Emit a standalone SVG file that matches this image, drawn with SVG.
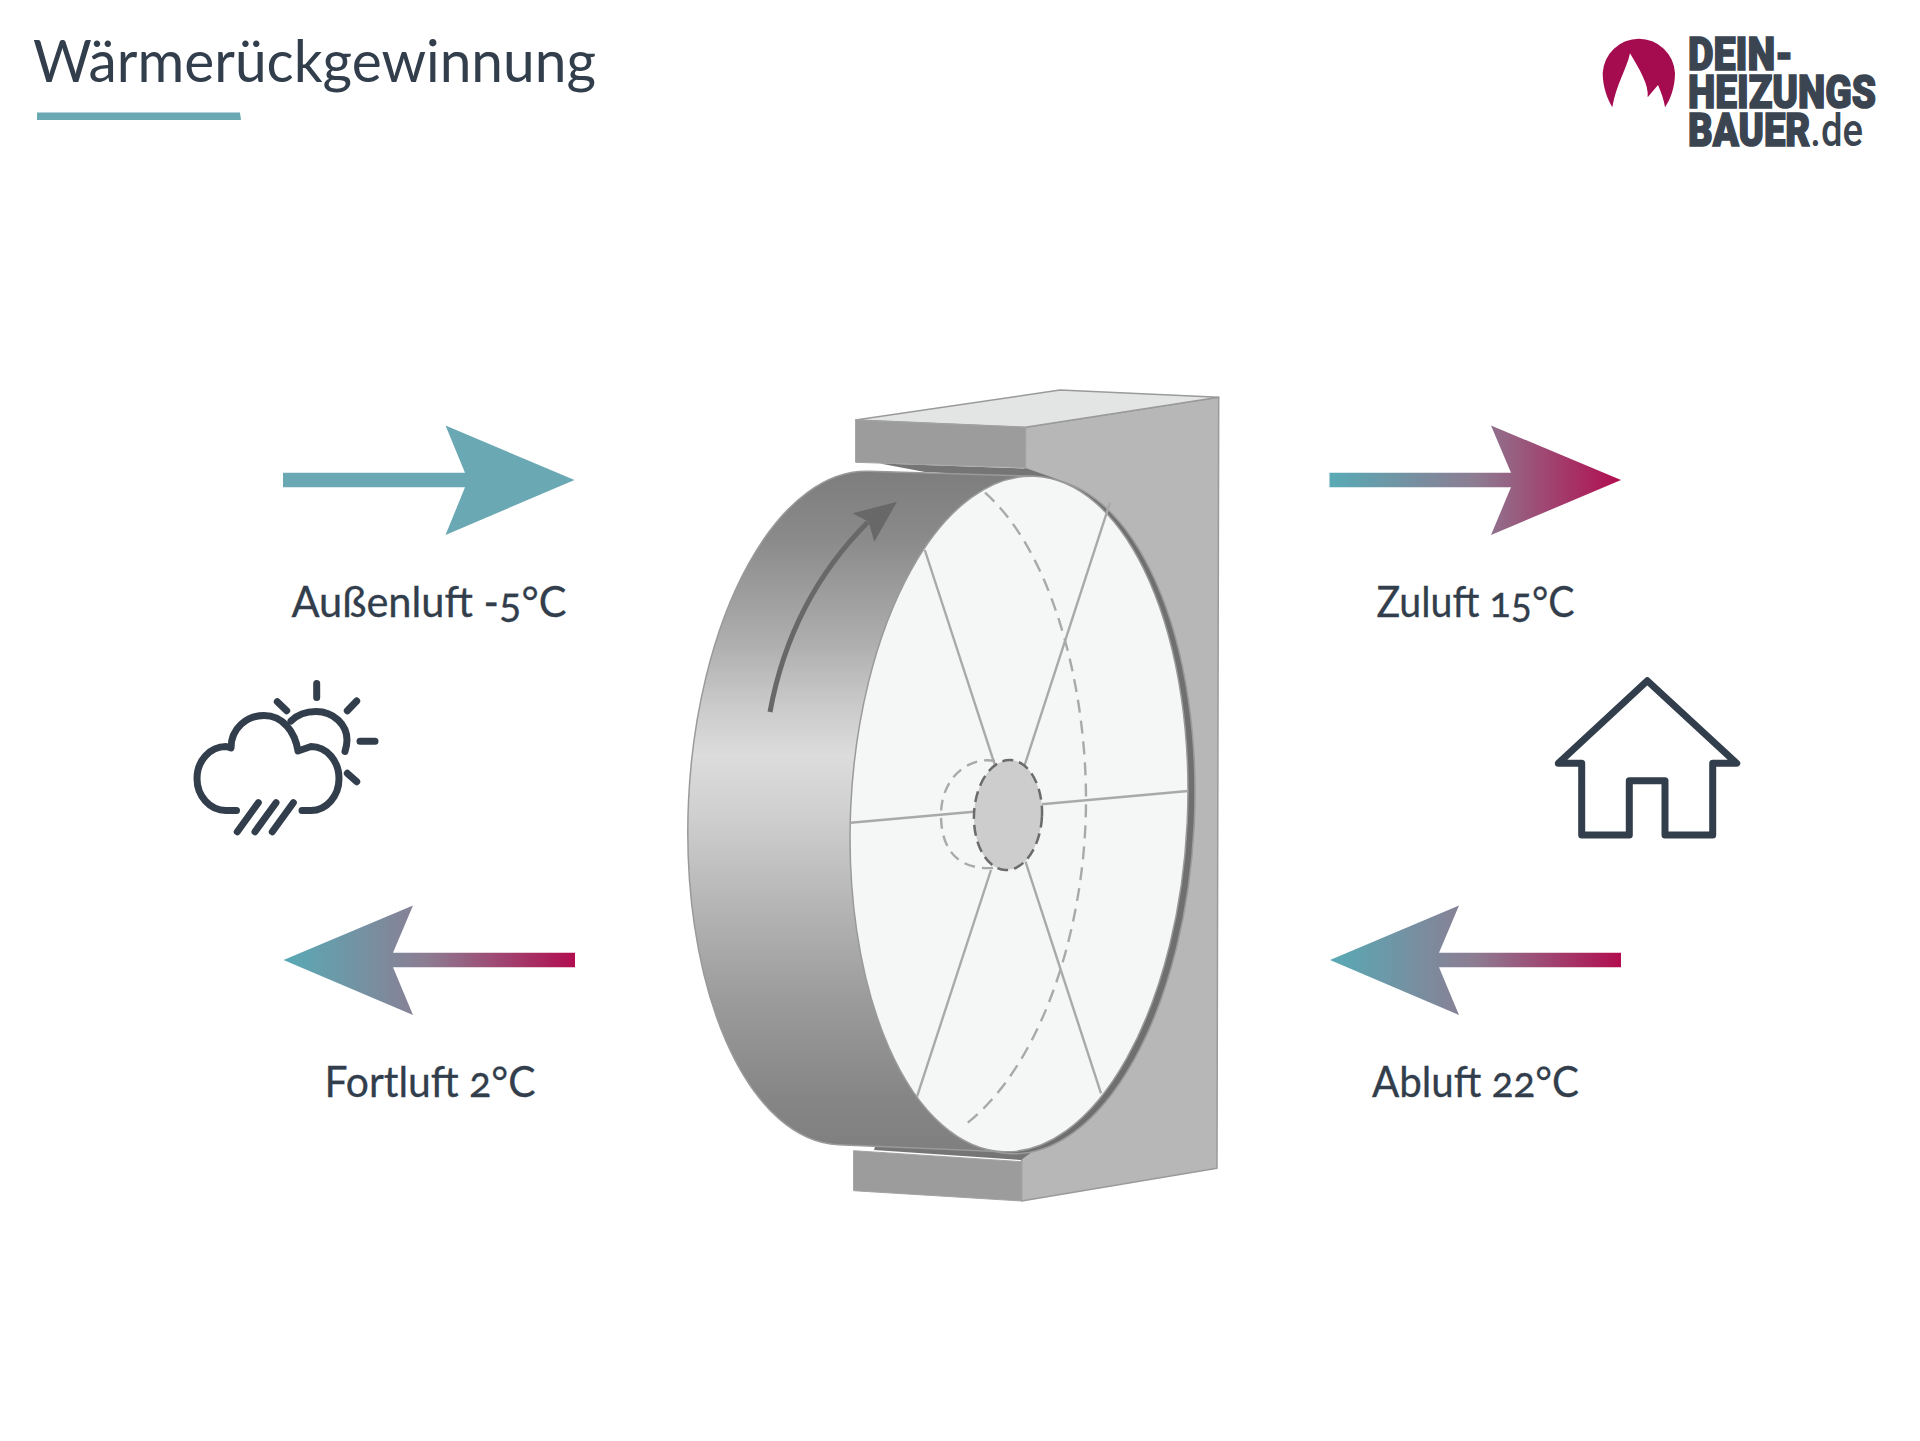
<svg xmlns="http://www.w3.org/2000/svg" width="1920" height="1441" viewBox="0 0 1920 1441">
<style>
.lbl{font-family:"Lato","Noto Sans",sans-serif;font-size:42px;fill:#323e4c;text-anchor:middle;font-variant-numeric:oldstyle-nums;stroke:#323e4c;stroke-width:.3}
.logo{font-family:"Roboto","Liberation Sans",sans-serif;font-size:47px;font-weight:900;fill:#3b4551;stroke:#3b4551;stroke-width:1.6}
.ico{fill:none;stroke:#323e4c;stroke-width:7;stroke-linecap:round;stroke-linejoin:round}
.spoke{stroke:#a9a9a9;stroke-width:2.4;fill:none}
.edge{stroke:#9a9a9a;stroke-width:1.5;stroke-linejoin:round}
</style>
<defs>
<linearGradient id="drum" gradientUnits="userSpaceOnUse" x1="0" y1="470" x2="0" y2="1150">
<stop offset="0" stop-color="#7d7d7d"/><stop offset=".1" stop-color="#8a8a8a"/><stop offset=".25" stop-color="#adadad"/><stop offset=".35" stop-color="#cbcbcb"/><stop offset=".42" stop-color="#dcdcdc"/><stop offset=".51" stop-color="#cfcfcf"/><stop offset=".62" stop-color="#b9b9b9"/><stop offset=".78" stop-color="#9b9b9b"/><stop offset=".92" stop-color="#868686"/><stop offset="1" stop-color="#7f7f7f"/>
</linearGradient>
<linearGradient id="flowR" gradientUnits="userSpaceOnUse" x1="1330" y1="0" x2="1621" y2="0"><stop offset="0" stop-color="#58aab5"/><stop offset=".5" stop-color="#8d7c92"/><stop offset="1" stop-color="#b20d4f"/></linearGradient>
<linearGradient id="flowBL" gradientUnits="userSpaceOnUse" x1="283" y1="0" x2="575" y2="0"><stop offset="0" stop-color="#58aab5"/><stop offset=".5" stop-color="#8d7c92"/><stop offset="1" stop-color="#b20d4f"/></linearGradient>
</defs>
<rect width="1920" height="1441" fill="#ffffff"/>

<g id="title">
<text x="33" y="81.5" font-family="Lato,'Noto Sans',sans-serif" font-size="58" fill="#323e4c" textLength="563" lengthAdjust="spacingAndGlyphs">Wärmerückgewinnung</text>
<polygon points="37,112.5 240,112.5 241,120 37,120" fill="#6aa8b4"/>
</g>

<g id="logo">
<path fill="#a50b4f" d="M1612.3,107.3C1608,100 1602.7,88 1602.7,73A36.2,36.2 0 0 1 1675,73C1675,88 1670,100 1665,107.3C1664,100 1661,92 1658,85L1647.7,97.3C1649,85 1640,70 1630,53.3C1627,68 1616,85 1612.3,107.3Z"/>
<text class="logo" x="1688" y="70" textLength="105" lengthAdjust="spacingAndGlyphs">DEIN-</text>
<text class="logo" x="1688" y="107.5" textLength="188" lengthAdjust="spacingAndGlyphs">HEIZUNGS</text>
<text class="logo" x="1688" y="146" textLength="175" lengthAdjust="spacingAndGlyphs">BAUER<tspan font-weight="500" stroke-width="0">.de</tspan></text>
</g>

<g id="connectors">
<path id="flow-aussenluft" fill="#6aa8b4" d="M283,472.7H465L445.5,425.5L574.5,480L445.5,535L465,487.3H283Z"/>
<path id="flow-zuluft" fill="url(#flowR)" d="M1329.5,472.7H1511L1491,425.5L1621,480L1491,535L1511,487.3H1329.5Z"/>
<path id="flow-fortluft" fill="url(#flowBL)" d="M575,952.7H393L413,905.5L283.5,960L413,1015L393,967.3H575Z"/>
<path id="flow-abluft" fill="url(#flowR)" d="M1621,952.7H1439L1459,905.5L1330,960L1459,1015L1439,967.3H1621Z"/>
</g>

<g id="label-aussenluft"><text class="lbl" x="429" y="616.5" textLength="275" lengthAdjust="spacingAndGlyphs">Außenluft -5°C</text></g>
<g id="label-zuluft"><text class="lbl" x="1475.5" y="616.5" textLength="198" lengthAdjust="spacingAndGlyphs">Zuluft 15°C</text></g>
<g id="label-fortluft"><text class="lbl" x="430" y="1096.5" textLength="211" lengthAdjust="spacingAndGlyphs">Fortluft 2°C</text></g>
<g id="label-abluft"><text class="lbl" x="1475.5" y="1096.5" textLength="207" lengthAdjust="spacingAndGlyphs">Abluft 22°C</text></g>

<g id="icon-weather" class="ico">
<path d="M236.5,810.5H226A29,32 0 0 1 226,746.5L231,748C231,728 247,715.5 264,715.5C283,715.5 295,732 298,751L311,746.5A28,32 0 0 1 311,810.5H302"/>
<path d="M291,721C298,714 307,711.5 316,711.5C334,711.5 347,725 347,740C347,744 346,748 345,751.5"/>
<path d="M316.7,683.5V697.5M277.3,701.7L286.7,710.7M356.7,701L347.3,710.7M360,741.3H375M347.3,773.3L356.7,781.7M258.3,802.7L237.3,831.7M276,802.7L255,831.7M293.3,802.7L272.3,831.7"/>
</g>

<g id="icon-house" class="ico">
<path d="M1647.3,680.7L1736.7,763.3H1712.7V835H1665V780.7H1629.3V835H1581.7V763.3H1558.3Z"/>
</g>

<g id="wheel-unit">
<polygon class="edge" fill="#b7b7b7" points="1025.5,427.3 1218.7,397.3 1217,1168.3 1021.6,1201 1021.6,1150"/>
<polygon class="edge" fill="#e3e4e4" points="855.6,420 1060,390 1218.7,397.3 1025.5,427.3"/>
<polygon fill="#9c9c9c" points="855.6,420 1025.5,427.3 1025.5,467.7 855.6,462.3"/>
<polygon fill="#9c9c9c" points="853.6,1150.7 1021.6,1161.7 1021.6,1201 853.6,1190.7"/>
<path stroke="#a3a3a3" fill="none" stroke-width="1" d="M855.6,420L1025.5,427.3V467.7L855.6,462.3ZM853.6,1150.7L1021.6,1161.7V1201L853.6,1190.7Z"/>
<polygon fill="#757575" points="880,463.5 1027,468.5 1065,482 1010,482 945,473 925,472"/>
<polygon fill="#757575" points="874,1150 1021,1160 1062,1130 1000,1130 880,1130"/>
<ellipse class="edge" fill="#6f6f6f" cx="1026" cy="816" rx="168.4" ry="338.1" transform="rotate(2.7 1026 816)"/>
<path class="edge" fill="url(#drum)" d="M1034.6,476.3L869.6,471.3A165.5,336.8 2.7 0 0 838.4,1144.7L1003.4,1151.7A168.4,338.1 2.7 0 1 1034.6,476.3Z"/>
<ellipse class="edge" fill="#f5f6f6" cx="1019" cy="814" rx="168.4" ry="338.1" transform="rotate(2.7 1019 814)"/>
<path class="spoke" d="M850.5,822.7L973.8,811.7M1041.6,804.3L1188,791M924.8,550L994.9,765M1110,502.7L1024.7,765M917,1096.7L991,870M1101,1093.3L1025.5,861.7"/>
<path class="spoke" stroke-dasharray="13 8" d="M985,492.7C1050,550 1086,680 1086,800C1086,930 1040,1070 962,1127"/>
<path class="spoke" stroke-dasharray="11 7" d="M995,761C972,756 941,775 941,815C941,850 958,870 993,868"/>
<ellipse cx="1008" cy="815" rx="34" ry="55" transform="rotate(2.7 1008 815)" fill="#cdcdcd" stroke="#6b6b6b" stroke-width="2.5" stroke-dasharray="11 6"/>
<path fill="none" stroke="#686868" stroke-width="5" d="M770,712C785,630 820,570 868,522"/>
<path fill="#686868" d="M897,501.7L852.5,513.3L868.6,521.7L874.3,541.7Z"/>
</g>
</svg>
